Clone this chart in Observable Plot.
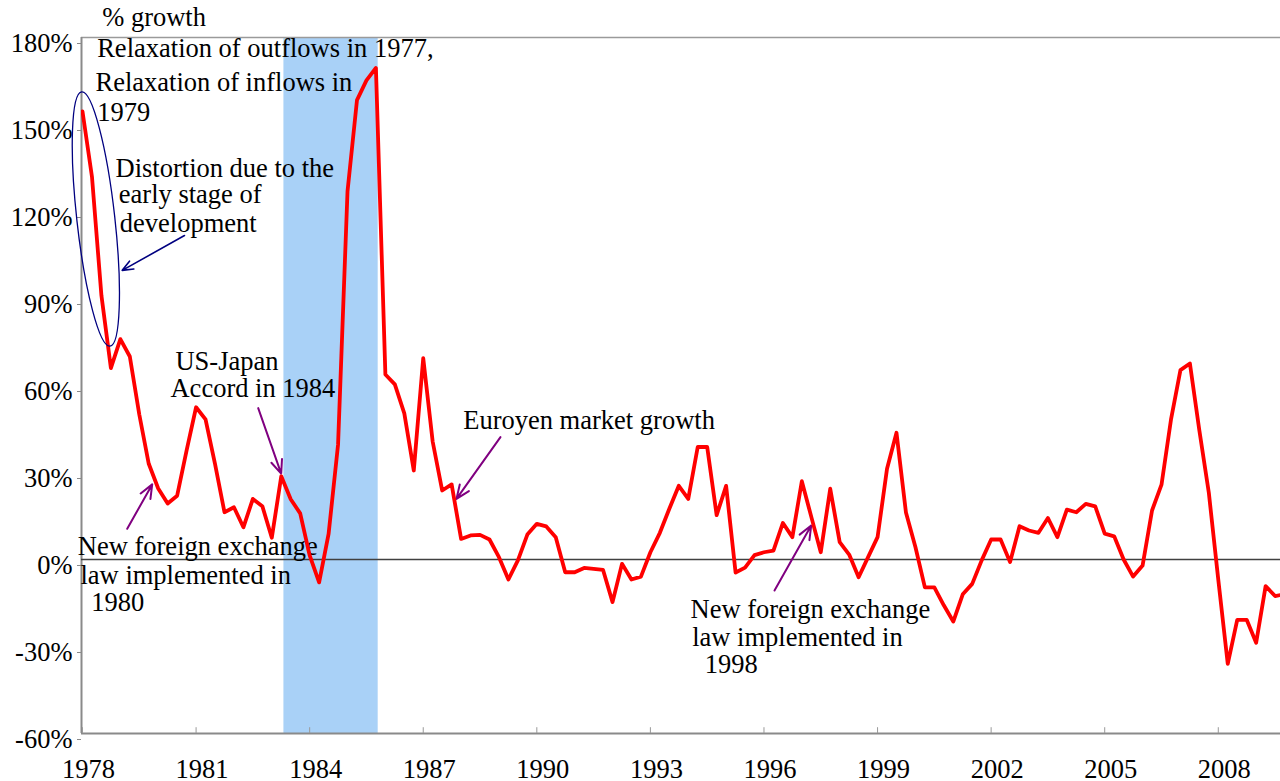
<!DOCTYPE html>
<html>
<head>
<meta charset="utf-8">
<script src="https://cdn.jsdelivr.net/npm/d3@7"></script>
<script src="https://cdn.jsdelivr.net/npm/@observablehq/plot@0.6"></script>
<style>
  html, body { margin: 0; padding: 0; background: #ffffff; }
  #chart svg { display: block; }
  #chart svg text { font-family: 'Liberation Serif', 'Times New Roman', Times, serif; }
</style>
</head>
<body>
<div id="chart"></div>
<script>
// ---- Data (quarterly % growth, starting 1978 Q1) ----
const startYear = 1978;
const growth = [
  154.5, 132, 91, 66, 76, 70, 50, 33, 24.5, 19.3, 22, 37.6,
  52.5, 48.3, 33, 16.3, 18, 11.1, 20.9, 18.4, 7.5, 28.7, 20.8, 15.9,
  1.4, -7.9, 8.8, 39.6, 127, 158.4, 165.2, 169.5, 63.8, 60.4, 50.4, 30.7,
  69.4, 40.6, 23.8, 25.9, 7.1, 8.3, 8.5, 6.9, 0.8, -6.9, -0.3, 8.6,
  12.3, 11.4, 7.7, -4.4, -4.4, -2.9, -3.2, -3.6, -14.7, -1.5, -6.9, -5.9,
  2.5, 9.2, 17.5, 25.4, 20.9, 38.8, 38.8, 15.3, 25.4, -4.5, -2.8, 1.5,
  2.5, 3.1, 12.6, 7.7, 27, 14.7, 2.5, 24.4, 6, 1.7, -6.1, 0.8,
  7.7, 31.3, 43.7, 16.2, 4.3, -9.6, -9.6, -15.8, -21.4, -12, -8.4, -0.3,
  6.9, 6.9, -0.9, 11.5, 10, 9.2, 14.3, 7.7, 17.2, 16.3, 19.2, 18.3,
  8.9, 8, 0, -5.9, -2.1, 16.9, 25.8, 48.2, 65.3, 67.6, 44.5, 23,
  -7, -36, -20.8, -20.8, -28.7, -9.2, -12.6, -12
];
const yTicks = [-60, -30, 0, 30, 60, 90, 120, 150, 180];
const xTicks = [1978, 1981, 1984, 1987, 1990, 1993, 1996, 1999, 2002, 2005, 2008];
const xDomain = [1977.9736, 2009.643];
const yDomain = [-60, 180];
const shadedPeriod = [{start: 1983.32, end: 1985.81}];

const annotations = [
  {text: "% growth", x: 1978.52, y: 183.8},
  {text: "Relaxation of outflows in 1977,", x: 1978.388, y: 173.2},
  {text: "Relaxation of inflows in", x: 1978.343, y: 161.5},
  {text: "1979", x: 1978.388, y: 151.1},
  {text: "Distortion due to the", x: 1978.872, y: 131.8},
  {text: "early stage of", x: 1978.959, y: 122.8},
  {text: "development", x: 1978.985, y: 112.9},
  {text: "US-Japan", x: 1980.456, y: 65.4},
  {text: "Accord in 1984", x: 1980.324, y: 56.0},
  {text: "Euroyen market growth", x: 1988.056, y: 45.1},
  {text: "New foreign exchange", x: 1977.876, y: 1.4},
  {text: "law implemented in", x: 1977.947, y: -8.4},
  {text: "1980", x: 1978.23, y: -17.6},
  {text: "New foreign exchange", x: 1994.059, y: -20.1},
  {text: "law implemented in", x: 1994.104, y: -29.7},
  {text: "1998", x: 1994.434, y: -39.2}
];
const purpleArrows = [
  {x1: 1982.641, y1: 52.2, x2: 1983.248, y2: 29.6},
  {x1: 1989.04, y1: 42.2, x2: 1987.878, y2: 20.9},
  {x1: 1979.181, y1: 10.6, x2: 1979.841, y2: 25.9},
  {x1: 1996.278, y1: -10.7, x2: 1997.247, y2: 11.7}
];
const navyArrows = [
  {x1: 1980.694, y1: 111.7, x2: 1979.049, y2: 99.7}
];
// Ellipse around the early-stage values: ends of its long axis (year, %)
const ellipseAxis = [{x: 1977.992, y: 161.1}, {x: 1978.74, y: 73.4}];

const series = growth.map((v, i) => ({t: startYear + i / 4, v}));

const font = "'Liberation Serif', 'Times New Roman', Times, serif";
const fs = 26.5;

const plot = Plot.plot({
  width: 1280,
  height: 781,
  marginLeft: 81,
  marginRight: 0,
  marginTop: 37,
  marginBottom: 48,
  style: {fontFamily: font, fontSize: fs + "px", background: "#ffffff", color: "#000"},
  x: {type: "linear", domain: xDomain, axis: null},
  y: {type: "linear", domain: yDomain, axis: null},
  marks: [
    Plot.rect(shadedPeriod, {x1: "start", x2: "end", y1: yDomain[0], y2: yDomain[1], fill: "#a9d1f7"}),
    Plot.ruleY([yDomain[1]], {stroke: "#9a9a9a", strokeWidth: 1.3}),
    Plot.ruleY([yDomain[0]], {stroke: "#8a8a8a", strokeWidth: 2}),
    Plot.ruleX([xDomain[0]], {stroke: "#8a8a8a", strokeWidth: 2}),
    Plot.ruleX(xTicks, {y1: -60, y2: -58, stroke: "#9a9a9a", strokeWidth: 1}),
    Plot.ruleY([0], {stroke: "#404040", strokeWidth: 1.6}),
    Plot.axisY(yTicks, {
      tickSize: 4, tickPadding: 5, dy: 6, stroke: "#8a8a8a",
      tickFormat: d => d + "%", fontSize: fs, fontFamily: font, fill: "#000"
    }),
    Plot.axisX(xTicks, {
      tickSize: 0, tickPadding: 26, dx: 6,
      tickFormat: d => String(d), fontSize: fs, fontFamily: font, fill: "#000"
    }),
    Plot.text(annotations, {
      x: "x", y: "y", text: "text", textAnchor: "start", lineAnchor: "bottom",
      fontSize: fs, fontFamily: font, fill: "#000"
    }),
    Plot.arrow(purpleArrows, {x1: "x1", y1: "y1", x2: "x2", y2: "y2", stroke: "#800080", strokeWidth: 2, headLength: 11, headAngle: 45}),
    Plot.arrow(navyArrows, {x1: "x1", y1: "y1", x2: "x2", y2: "y2", stroke: "#000080", strokeWidth: 1.6, headLength: 11, headAngle: 45}),
    Plot.line(series, {x: "t", y: "v", stroke: "#ff0000", strokeWidth: 3.8, clip: true})
  ]
});

// Draw the ellipse annotation using the plot's own scales
(function () {
  const xs = plot.scale("x"), ys = plot.scale("y");
  const fx = xs.apply ? (v => xs.apply(v)) : d3.scaleLinear(xs.domain, xs.range);
  const fy = ys.apply ? (v => ys.apply(v)) : d3.scaleLinear(ys.domain, ys.range);
  const [a, b] = ellipseAxis.map(p => [fx(p.x), fy(p.y)]);
  const cx = (a[0] + b[0]) / 2, cy = (a[1] + b[1]) / 2;
  const ry = Math.hypot(b[0] - a[0], b[1] - a[1]) / 2;
  const ang = Math.atan2(b[0] - a[0], b[1] - a[1]) * 180 / Math.PI;
  d3.select(plot).append("ellipse")
    .attr("cx", cx).attr("cy", cy).attr("rx", 19).attr("ry", ry)
    .attr("transform", `rotate(${-ang},${cx},${cy})`)
    .attr("fill", "none").attr("stroke", "#000080").attr("stroke-width", 1.3);
})();

document.getElementById("chart").appendChild(plot);
</script>
</body>
</html>
